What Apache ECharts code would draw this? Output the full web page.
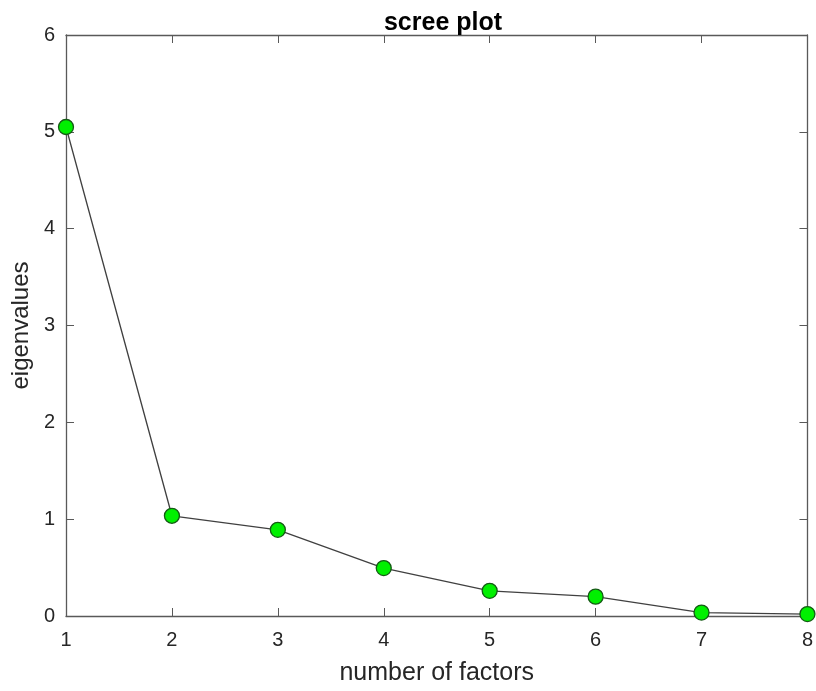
<!DOCTYPE html>
<html>
<head>
<meta charset="utf-8">
<title>scree plot</title>
<script src="https://cdn.jsdelivr.net/npm/echarts@6/dist/echarts.min.js"></script>
<style>
  html, body { margin: 0; padding: 0; background: #fff; }
  #chart { width: 816px; height: 691px; }
</style>
</head>
<body>
<div id="chart"></div>
<script>
// Factor numbers and their eigenvalues
const factors = [1, 2, 3, 4, 5, 6, 7, 8];
const eigenvalues = [5.05, 1.035, 0.89, 0.495, 0.26, 0.2, 0.035, 0.02];
const xTicks = [1, 2, 3, 4, 5, 6, 7, 8];
const yTicks = [0, 1, 2, 3, 4, 5, 6];

const axisColor = '#595959';
const textColor = '#262626';
const font = 'Liberation Sans, Arial, Helvetica, sans-serif';

const chart = echarts.init(document.getElementById('chart'), null, { renderer: 'canvas' });

// Shared look for the four sides of the axes box
function boxAxis(extra) {
  return Object.assign({
    type: 'value',
    axisLine: { show: true, onZero: false, lineStyle: { color: axisColor, width: 1.3 } },
    axisTick: { show: true, inside: true, length: 8, lineStyle: { color: axisColor, width: 1 } },
    splitLine: { show: false }
  }, extra);
}

chart.setOption({
  animation: false,
  backgroundColor: '#fff',
  title: {
    text: 'scree plot',
    left: 438,
    top: 6,
    textAlign: 'center',
    textStyle: { fontFamily: font, fontSize: 25, fontWeight: 'bold', color: '#000' }
  },
  grid: { left: 66, right: 6, top: 35, bottom: 70, containLabel: false },
  xAxis: [
    boxAxis({
      position: 'bottom',
      min: xTicks[0], max: xTicks[xTicks.length - 1], interval: 1,
      name: 'number of factors',
      nameLocation: 'middle',
      nameGap: 45,
      nameTextStyle: { fontFamily: font, fontSize: 25, color: textColor },
      axisLabel: { fontFamily: font, fontSize: 20, color: textColor, margin: 14 }
    }),
    boxAxis({
      position: 'top',
      min: xTicks[0], max: xTicks[xTicks.length - 1], interval: 1,
      axisLabel: { show: false }
    })
  ],
  yAxis: [
    boxAxis({
      position: 'left',
      min: yTicks[0], max: yTicks[yTicks.length - 1], interval: 1,
      name: 'eigenvalues',
      nameLocation: 'middle',
      nameGap: 30,
      nameRotate: 90,
      nameTextStyle: { fontFamily: font, fontSize: 24, color: textColor },
      axisLabel: { fontFamily: font, fontSize: 20, color: textColor, margin: 11 }
    }),
    boxAxis({
      position: 'right',
      min: yTicks[0], max: yTicks[yTicks.length - 1], interval: 1,
      axisLabel: { show: false }
    })
  ],
  series: [{
    type: 'line',
    data: factors.map((f, i) => [f, eigenvalues[i]]),
    clip: false,
    symbol: 'circle',
    symbolSize: 15,
    lineStyle: { color: '#404040', width: 1.3 },
    itemStyle: { color: '#00f000', borderColor: '#145a14', borderWidth: 1.3 }
  }]
});
</script>
</body>
</html>
